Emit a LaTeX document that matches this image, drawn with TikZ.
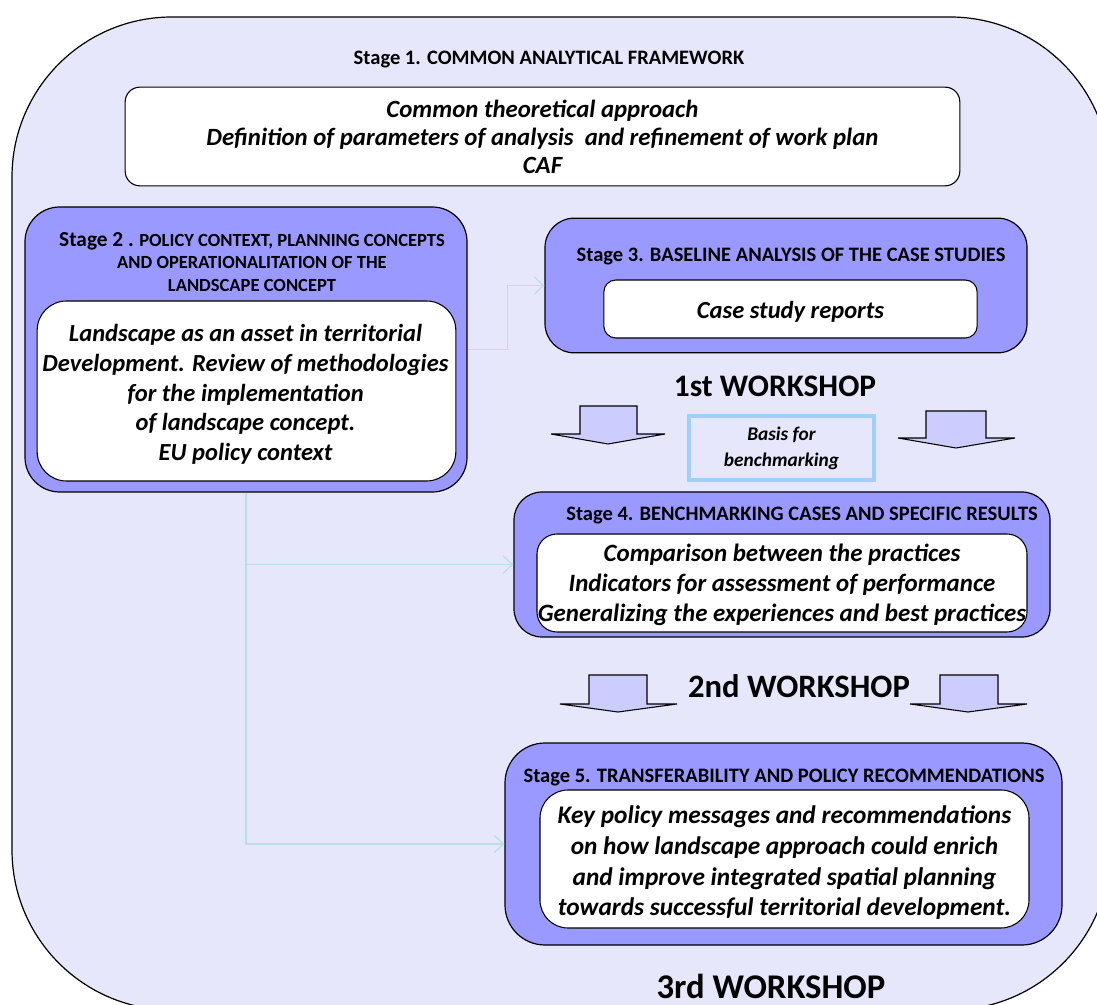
\documentclass[tikz,border=0pt]{standalone}
\usepackage{fontspec}
\setmainfont{Carlito}
\usetikzlibrary{arrows.meta}
\definecolor{backfill}{RGB}{231,231,251}
\definecolor{stagefill}{RGB}{153,153,255}
\definecolor{arrowfill}{RGB}{204,204,255}
\definecolor{basisline}{RGB}{160,208,250}
\definecolor{linkcol}{RGB}{184,224,226}
\tikzset{
  stagebox/.style={draw, line width=0.9pt, fill=stagefill, inner sep=0pt},
  whitebox/.style={draw, line width=0.8pt, fill=white, inner sep=0pt},
  bodytext/.style={align=center, inner sep=0pt, font=\bfseries\itshape\fontsize{18.6}{22.5}\selectfont},
  stagetitle/.style={font=\bfseries\fontsize{15.4}{18}\selectfont, inner sep=0pt},
  workshop/.style={font=\bfseries\fontsize{24.5}{30}\selectfont, inner sep=0pt},
  blockarrow/.style={draw, line width=0.8pt, fill=arrowfill},
  link/.style={draw=linkcol, line width=0.9pt, -{Straight Barb[length=7pt,width=13pt]}}
}
\begin{document}
\begin{tikzpicture}[x=0.75pt,y=-0.75pt]
  \useasboundingbox (0,0) rectangle (1097,1005);
  \clip (0,0) rectangle (1097,1005);
  % outer frame
  \draw[fill=backfill, line width=0.9pt, rounded corners=120pt] (12,17) rectangle (1110,1010);
  % stage 1
  \node[stagetitle] (t1) at (549,60) {Stage 1. COMMON ANALYTICAL FRAMEWORK};
  \node[whitebox, rounded corners=11pt, minimum width=626pt, minimum height=74pt] (caf) at (542.5,136.5) {};
  \node[bodytext, font=\bfseries\itshape\fontsize{18.6}{21}\selectfont] (caftxt) at (caf)
    {Common theoretical approach\\Definition of parameters of analysis \ and refinement of work plan\\CAF};
  % stage 2
  \node[stagebox, rounded corners=26pt, minimum width=331.5pt, minimum height=213.75pt] (s2) at (246,349.5) {};
  \node[font=\bfseries\fontsize{13.9}{16.8}\selectfont, align=center, inner sep=0pt] (t2) at (252,262)
    {{\fontsize{16}{16.8}\selectfont Stage 2 .} POLICY CONTEXT, PLANNING CONCEPTS\\AND OPERATIONALITATION OF THE\\LANDSCAPE CONCEPT};
  \node[whitebox, rounded corners=22pt, minimum width=314pt, minimum height=135pt] (w2) at (246.5,391) {};
  \node[bodytext, font=\bfseries\itshape\fontsize{18.4}{22.3}\selectfont, yshift=-2.6pt] (w2txt) at (245.5,391)
    {Landscape as an asset in territorial\\Development. Review of methodologies\\for the implementation\\of landscape concept.\\EU policy context};
  % stage 3
  \node[stagebox, rounded corners=22pt, minimum width=361.5pt, minimum height=101pt] (s3) at (786,285.5) {};
  \node[stagetitle] (t3) at (791,257) {Stage 3. BASELINE ANALYSIS OF THE CASE STUDIES};
  \node[whitebox, rounded corners=9pt, minimum width=280pt, minimum height=43.5pt] (w3) at (790.5,309) {};
  \node[bodytext, font=\bfseries\itshape\fontsize{18.4}{22.5}\selectfont, yshift=-2.2pt] (w3txt) at (w3) {Case study reports};
  % 1st workshop
  \node[workshop, font=\bfseries\fontsize{23.5}{30}\selectfont] (ws1) at (775,386) {1st WORKSHOP};
  \draw[blockarrow] (580,406) -- (637,406) -- (637,434) -- (665,434) -- (608,444) -- (551,434) -- (580,434) -- cycle;
  \draw[blockarrow] (926,411) -- (986,411) -- (986,438) -- (1015,438) -- (956,448) -- (898,438) -- (926,438) -- cycle;
  \node[draw=basisline, line width=3pt, fill=backfill, minimum width=139pt, minimum height=48pt,
    align=center, font=\bfseries\itshape\fontsize{14.5}{19}\selectfont] (basis) at (781.5,448.5) {Basis for\\benchmarking};
  % stage 4
  \node[stagebox, rounded corners=21pt, minimum width=402pt, minimum height=108.75pt] (s4) at (782,564.5) {};
  \node[stagetitle] (t4) at (802,516) {Stage 4. BENCHMARKING CASES AND SPECIFIC RESULTS};
  \node[whitebox, rounded corners=15pt, minimum width=367.5pt, minimum height=73.5pt] (w4) at (782,583) {};
  \node[bodytext, font=\bfseries\itshape\fontsize{18.7}{22.5}\selectfont, yshift=-1.5pt] (w4txt) at (w4)
    {Comparison between the practices\\Indicators for assessment of performance\\Generalizing the experiences and best practices};
  % 2nd workshop
  \node[workshop] (ws2) at (799,686) {2nd WORKSHOP};
  \draw[blockarrow] (589,675) -- (647,675) -- (647,704) -- (677,704) -- (618,712) -- (560,704) -- (589,704) -- cycle;
  \draw[blockarrow] (940,675) -- (998,675) -- (998,704) -- (1027,704) -- (968,712) -- (910,704) -- (940,704) -- cycle;
  % stage 5
  \node[stagebox, rounded corners=30pt, minimum width=417.75pt, minimum height=151.5pt] (s5) at (783.5,844) {};
  \node[stagetitle] (t5) at (784,778) {Stage 5. TRANSFERABILITY AND POLICY RECOMMENDATIONS};
  \node[whitebox, rounded corners=21pt, minimum width=366.75pt, minimum height=103.5pt] (w5) at (784.5,859) {};
  \node[bodytext, font=\bfseries\itshape\fontsize{19}{23}\selectfont, yshift=-3pt] (w5txt) at (w5)
    {Key policy messages and recommendations\\on how landscape approach could enrich\\and improve integrated spatial planning\\towards successful territorial development.};
  \node[workshop, font=\bfseries\fontsize{26}{30}\selectfont] (ws3) at (771,986) {3rd WORKSHOP};
  % links
  \draw[link] (s2.east) -- ++(40,0) |- (s3.west);
  \draw[link] (s2.south) |- (s5.west);
  \draw[link] (s2.south |- s4.west) -- (s4.west);
\end{tikzpicture}
\end{document}
